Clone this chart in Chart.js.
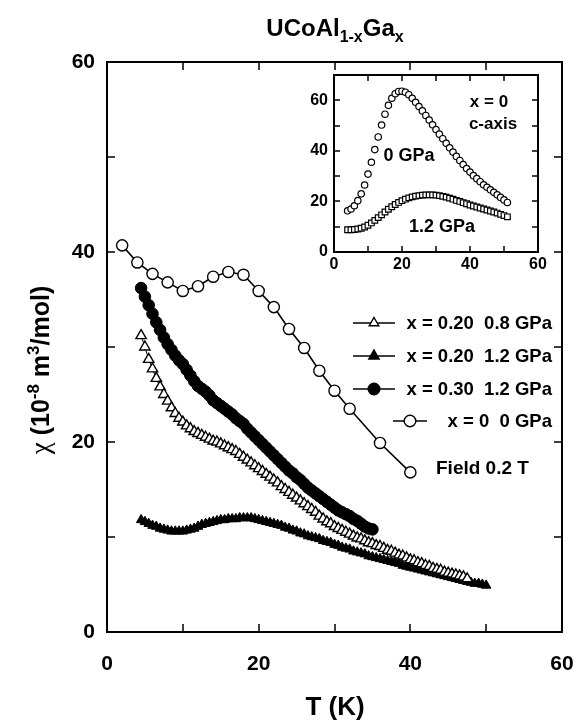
<!DOCTYPE html>
<html>
<head>
<meta charset="utf-8">
<script src="https://cdn.jsdelivr.net/npm/chart.js@4.4.1/dist/chart.umd.min.js"></script>
<style>
  html, body { margin: 0; padding: 0; background: #fff; }
  #wrap { position: relative; width: 576px; height: 725px; }
  #mainChart { position: absolute; left: 0; top: 0; width: 576px; height: 725px; }
  #insetChart { position: absolute; left: 290px; top: 66px; width: 262px; height: 222px; }
</style>
</head>
<body>
<div id="wrap">
  <canvas id="mainChart" width="576" height="725"></canvas>
  <canvas id="insetChart" width="262" height="222"></canvas>
</div>
<script>
// ---- main panel data (T in K, chi in 1e-8 m3/mol) ----
const x0T = [2, 4, 6, 8, 10, 12, 14, 16, 18, 20, 22, 24, 26, 28, 30, 32, 36, 40];
const x0Chi = [40.7, 38.9, 37.7, 36.8, 35.9, 36.4, 37.4, 37.9, 37.6, 35.9, 34.2, 31.9, 29.9, 27.5, 25.4, 23.5, 19.9, 16.8];

const x30T = [
  4.5, 5, 5.5, 6, 6.5, 7, 7.5, 8, 8.5, 9,
  9.5, 10, 10.5, 11, 11.5, 12, 12.5, 13, 13.5, 14,
  14.5, 15, 15.5, 16, 16.5, 17, 17.5, 18, 18.5, 19,
  19.5, 20, 20.5, 21, 21.5, 22, 22.5, 23, 23.5, 24,
  24.5, 25, 25.5, 26, 26.5, 27, 27.5, 28, 28.5, 29,
  29.5, 30, 30.5, 31, 31.5, 32, 32.5, 33, 33.5, 34,
  34.5, 35
];
const x30Chi = [
  36.2, 35.3, 34.4, 33.5, 32.6, 31.8, 31.0, 30.3, 29.7, 29.1,
  28.6, 28.2, 27.6, 27.0, 26.4, 25.9, 25.6, 25.3, 24.9, 24.4,
  24.1, 23.8, 23.5, 23.2, 22.9, 22.5, 22.2, 21.9, 21.4, 21.0,
  20.6, 20.2, 19.8, 19.4, 19.0, 18.6, 18.2, 17.8, 17.4, 17.0,
  16.7, 16.3, 16.0, 15.6, 15.2, 14.9, 14.6, 14.3, 14.0, 13.7,
  13.4, 13.1, 12.8, 12.6, 12.4, 12.2, 11.9, 11.7, 11.4, 11.1,
  10.9, 10.8
];

const x20lowT = [
  4.5, 5, 5.5, 6, 6.5, 7, 7.5, 8, 8.5, 9,
  9.5, 10, 10.5, 11, 11.5, 12, 12.5, 13, 13.5, 14,
  14.5, 15, 15.5, 16, 16.5, 17, 17.5, 18, 18.5, 19,
  19.5, 20, 20.5, 21, 21.5, 22, 22.5, 23, 23.5, 24,
  24.5, 25, 25.5, 26, 26.5, 27, 27.5, 28, 28.5, 29,
  29.5, 30, 30.5, 31, 31.5, 32, 32.5, 33, 33.5, 34,
  34.5, 35, 35.5, 36, 36.5, 37, 37.5, 38, 38.5, 39,
  39.5, 40, 40.5, 41, 41.5, 42, 42.5, 43, 43.5, 44,
  44.5, 45, 45.5, 46, 46.5, 47, 47.5
];
const x20lowChi = [
  31.2, 30.0, 28.7, 27.7, 26.7, 25.8, 25.0, 24.3, 23.6, 23.0,
  22.5, 22.1, 21.7, 21.4, 21.1, 20.9, 20.7, 20.5, 20.3, 20.1,
  20.0, 19.8, 19.6, 19.4, 19.2, 19.0, 18.7, 18.4, 18.1, 17.8,
  17.5, 17.2, 16.9, 16.6, 16.3, 16.0, 15.7, 15.3, 15.0, 14.7,
  14.4, 14.1, 13.8, 13.5, 13.2, 12.9, 12.6, 12.2, 11.9, 11.6,
  11.4, 11.1, 10.9, 10.7, 10.5, 10.3, 10.1, 9.9, 9.8, 9.6,
  9.4, 9.3, 9.1, 9.0, 8.8, 8.6, 8.5, 8.3, 8.1, 8.0,
  7.8, 7.6, 7.5, 7.3, 7.2, 7.0, 6.9, 6.7, 6.6, 6.5,
  6.3, 6.2, 6.1, 6.0, 5.9, 5.8, 5.6
];

const x20highT = [
  4.5, 5, 5.5, 6, 6.5, 7, 7.5, 8, 8.5, 9,
  9.5, 10, 10.5, 11, 11.5, 12, 12.5, 13, 13.5, 14,
  14.5, 15, 15.5, 16, 16.5, 17, 17.5, 18, 18.5, 19,
  19.5, 20, 20.5, 21, 21.5, 22, 22.5, 23, 23.5, 24,
  24.5, 25, 25.5, 26, 26.5, 27, 27.5, 28, 28.5, 29,
  29.5, 30, 30.5, 31, 31.5, 32, 32.5, 33, 33.5, 34,
  34.5, 35, 35.5, 36, 36.5, 37, 37.5, 38, 38.5, 39,
  39.5, 40, 40.5, 41, 41.5, 42, 42.5, 43, 43.5, 44,
  44.5, 45, 45.5, 46, 46.5, 47, 47.5, 48, 48.5, 49,
  49.5, 50
];
const x20highChi = [
  11.8, 11.6, 11.4, 11.2, 11.1, 10.9, 10.8, 10.7, 10.6, 10.6,
  10.6, 10.6, 10.7, 10.8, 10.9, 11.1, 11.3, 11.4, 11.5, 11.6,
  11.7, 11.8, 11.8, 11.9, 11.9, 11.9, 12.0, 12.0, 12.0, 12.0,
  11.9, 11.8, 11.7, 11.6, 11.5, 11.4, 11.3, 11.2, 11.0, 10.9,
  10.7, 10.6, 10.4, 10.3, 10.1, 10.0, 9.9, 9.8, 9.6, 9.5,
  9.4, 9.2, 9.1, 8.9, 8.8, 8.7, 8.5, 8.4, 8.3, 8.2,
  8.0, 7.9, 7.8, 7.7, 7.6, 7.5, 7.4, 7.3, 7.2, 7.0,
  6.9, 6.8, 6.7, 6.6, 6.5, 6.4, 6.3, 6.2, 6.1, 6.0,
  5.9, 5.8, 5.7, 5.6, 5.5, 5.4, 5.3, 5.2, 5.1, 5.1,
  5.0, 4.9
];

// ---- inset data: x = 0, c-axis ----
const insetT = [
  4, 5, 6, 7, 8, 9, 10, 11, 12, 13,
  14, 15, 16, 17, 18, 19, 20, 21, 22, 23,
  24, 25, 26, 27, 28, 29, 30, 31, 32, 33,
  34, 35, 36, 37, 38, 39, 40, 41, 42, 43,
  44, 45, 46, 47, 48, 49, 50, 51
];
const inset0GPa = [
  16.3, 17.0, 18.3, 20.3, 23.0, 26.5, 30.8, 35.5, 40.5, 45.5,
  50.2, 54.5, 58.0, 60.8, 62.6, 63.5, 63.6, 63.2, 62.2, 60.8,
  59.2, 57.5, 55.8, 54.0, 52.2, 50.3, 48.4, 46.6, 44.8, 43.0,
  41.2, 39.5, 37.8, 36.2, 34.6, 33.0, 31.6, 30.2, 29.0, 27.8,
  26.6, 25.6, 24.6, 23.6, 22.6, 21.6, 20.6, 19.6
];
const inset12GPa = [
  8.8, 8.8, 8.9, 9.1, 9.4, 9.9, 10.6, 11.5, 12.5, 13.6,
  14.7, 15.8, 16.9, 17.9, 18.8, 19.6, 20.3, 20.9, 21.4, 21.8,
  22.1, 22.3, 22.5, 22.6, 22.6, 22.6, 22.5, 22.3, 22.0, 21.7,
  21.3, 20.9, 20.4, 20.0, 19.5, 19.1, 18.6, 18.2, 17.8, 17.4,
  17.0, 16.6, 16.2, 15.8, 15.4, 14.9, 14.4, 13.9
];

const legendLabels = ['x = 0.20  0.8 GPa', 'x = 0.20  1.2 GPa', 'x = 0.30  1.2 GPa', 'x = 0  0 GPa'];

const SANS = '"Liberation Sans", Arial, Helvetica, sans-serif';
const pts = (xs, ys) => xs.map((v, i) => ({ x: v, y: ys[i] }));

// keep tick labels from shrinking the plot area
const noEdgePadding = s => {
  s.paddingLeft = 0; s.paddingRight = 0; s.paddingTop = 0; s.paddingBottom = 0;
};

// inward ticks on all four sides + closed frame
const frameTicks = {
  id: 'frameTicks',
  afterDatasetsDraw(chart, args, opts) {
    const { ctx, chartArea: a, scales } = chart;
    ctx.save();
    ctx.strokeStyle = '#000';
    ctx.lineWidth = opts.tickWidth;
    ctx.beginPath();
    scales.x.ticks.forEach(t => {
      const px = Math.round(scales.x.getPixelForValue(t.value));
      ctx.moveTo(px, a.bottom); ctx.lineTo(px, a.bottom - opts.tickLen);
      ctx.moveTo(px, a.top); ctx.lineTo(px, a.top + opts.tickLen);
    });
    scales.y.ticks.forEach(t => {
      const py = Math.round(scales.y.getPixelForValue(t.value));
      ctx.moveTo(a.left, py); ctx.lineTo(a.left + opts.tickLen, py);
      ctx.moveTo(a.right, py); ctx.lineTo(a.right - opts.tickLen, py);
    });
    ctx.stroke();
    ctx.lineWidth = opts.frameWidth;
    ctx.strokeRect(a.left, a.top, a.right - a.left, a.bottom - a.top);
    ctx.restore();
  }
};

// text runs with sub/superscripts
function drawRuns(ctx, runs, x, y, align) {
  let total = 0;
  runs.forEach(r => { ctx.font = r.font; r.w = ctx.measureText(r.text).width; total += r.w; });
  let cx = align === 'center' ? x - total / 2 : x;
  runs.forEach(r => {
    ctx.font = r.font;
    ctx.fillText(r.text, cx, y + (r.dy || 0));
    cx += r.w;
  });
}

function marker(ctx, style, x, y, r, filled) {
  ctx.beginPath();
  if (style === 'circle') {
    ctx.arc(x, y, r, 0, Math.PI * 2);
  } else {
    ctx.moveTo(x, y - r);
    ctx.lineTo(x + r * 0.866, y + r * 0.5);
    ctx.lineTo(x - r * 0.866, y + r * 0.5);
    ctx.closePath();
  }
  ctx.fillStyle = filled ? '#000' : '#fff';
  ctx.fill();
  ctx.stroke();
}

const mainTexts = {
  id: 'mainTexts',
  afterDraw(chart) {
    const ctx = chart.ctx;
    ctx.save();
    ctx.fillStyle = '#000';
    ctx.textBaseline = 'alphabetic';
    ctx.textAlign = 'left';
    // title
    drawRuns(ctx, [
      { text: 'UCoAl', font: 'bold 24px ' + SANS },
      { text: '1-x', font: 'bold 16px ' + SANS, dy: 6 },
      { text: 'Ga', font: 'bold 24px ' + SANS },
      { text: 'x', font: 'bold 16px ' + SANS, dy: 6 }
    ], 335, 36, 'center');
    // x axis title
    ctx.font = 'bold 26px ' + SANS;
    ctx.textAlign = 'center';
    ctx.fillText('T (K)', 335, 715);
    ctx.textAlign = 'left';
    // y axis title, rotated
    ctx.save();
    ctx.translate(49, 370);
    ctx.rotate(-Math.PI / 2);
    drawRuns(ctx, [
      { text: 'χ', font: '27px "Liberation Serif", serif' },
      { text: ' (10', font: 'bold 25px ' + SANS },
      { text: '-8', font: 'bold 17px ' + SANS, dy: -10 },
      { text: ' m', font: 'bold 25px ' + SANS },
      { text: '3', font: 'bold 17px ' + SANS, dy: -10 },
      { text: '/mol)', font: 'bold 25px ' + SANS }
    ], 0, 0, 'center');
    ctx.restore();
    // legend
    ctx.strokeStyle = '#000';
    const rows = [
      { y: 323, x1: 353, x2: 395, style: 'triangle', r: 5.5, filled: false },
      { y: 356, x1: 353, x2: 395, style: 'triangle', r: 6, filled: true },
      { y: 389, x1: 353, x2: 395, style: 'circle', r: 5.8, filled: true },
      { y: 421, x1: 393, x2: 427, style: 'circle', r: 5.8, filled: false }
    ];
    ctx.font = 'bold 18.5px ' + SANS;
    ctx.textBaseline = 'middle';
    rows.forEach((row, i) => {
      ctx.lineWidth = 1.6;
      ctx.beginPath();
      ctx.moveTo(row.x1, row.y); ctx.lineTo(row.x2, row.y);
      ctx.stroke();
      ctx.lineWidth = 1.4;
      marker(ctx, row.style, (row.x1 + row.x2) / 2, row.y, row.r, row.filled);
      ctx.fillStyle = '#000';
      ctx.textAlign = 'right';
      ctx.fillText(legendLabels[i], 552, row.y + 1);
    });
    ctx.textAlign = 'left';
    ctx.font = 'bold 19px ' + SANS;
    ctx.fillText('Field 0.2 T', 436, 469);
    ctx.restore();
  }
};

const tickFont = { family: SANS, size: 21, weight: 'bold' };

new Chart(document.getElementById('mainChart'), {
  type: 'scatter',
  data: {
    datasets: [
      {
        data: pts(x0T, x0Chi), showLine: true, borderColor: '#000', borderWidth: 1.6,
        pointStyle: 'circle', pointRadius: 5.6, pointBackgroundColor: '#fff',
        pointBorderColor: '#000', pointBorderWidth: 1.4
      },
      {
        data: pts(x30T, x30Chi), showLine: true, borderColor: '#000', borderWidth: 1.5,
        pointStyle: 'circle', pointRadius: 5.8, pointBackgroundColor: '#000',
        pointBorderColor: '#000', pointBorderWidth: 1
      },
      {
        data: pts(x20lowT, x20lowChi), showLine: true, borderColor: '#000', borderWidth: 1,
        pointStyle: 'triangle', pointRadius: 6, pointBackgroundColor: '#fff',
        pointBorderColor: '#000', pointBorderWidth: 1.4
      },
      {
        data: pts(x20highT, x20highChi), showLine: true, borderColor: '#000', borderWidth: 1.5,
        pointStyle: 'triangle', pointRadius: 5.5, pointBackgroundColor: '#000',
        pointBorderColor: '#000', pointBorderWidth: 1
      }
    ]
  },
  options: {
    responsive: false,
    animation: false,
    layout: { padding: { left: 0, top: 62, right: 14, bottom: 0 } },
    plugins: {
      legend: { display: false },
      tooltip: { enabled: false },
      frameTicks: { tickLen: 8, tickWidth: 1.5, frameWidth: 2 }
    },
    scales: {
      x: {
        type: 'linear', min: 0, max: 60,
        afterFit: s => { s.height = 93; noEdgePadding(s); },
        grid: { display: false, drawTicks: false },
        border: { display: false },
        ticks: {
          stepSize: 10, autoSkip: false, maxRotation: 0, padding: 20,
          color: '#000', font: tickFont,
          callback: v => (v % 20 === 0 ? v : '')
        }
      },
      y: {
        type: 'linear', min: 0, max: 60,
        afterFit: s => { s.width = 107; noEdgePadding(s); },
        grid: { display: false, drawTicks: false },
        border: { display: false },
        ticks: {
          stepSize: 10, autoSkip: false, padding: 12,
          color: '#000', font: tickFont,
          callback: v => (v % 20 === 0 ? v : '')
        }
      }
    }
  },
  plugins: [frameTicks, mainTexts]
});

// ---- inset ----
const insetTexts = {
  id: 'insetTexts',
  afterDraw(chart) {
    const ctx = chart.ctx;
    const ox = 290, oy = 66; // canvas offset on the page
    ctx.save();
    ctx.fillStyle = '#000';
    ctx.textAlign = 'center';
    ctx.textBaseline = 'middle';
    ctx.font = 'bold 17px ' + SANS;
    ctx.fillText('x = 0', 489 - ox, 102 - oy);
    ctx.fillText('c-axis', 493 - ox, 124 - oy);
    ctx.font = 'bold 18px ' + SANS;
    ctx.fillText('0 GPa', 409 - ox, 156 - oy);
    ctx.fillText('1.2 GPa', 442 - ox, 227 - oy);
    ctx.restore();
  }
};

const insetFont = { family: SANS, size: 16, weight: 'bold' };

new Chart(document.getElementById('insetChart'), {
  type: 'scatter',
  data: {
    datasets: [
      {
        data: pts(insetT, inset0GPa), showLine: false,
        pointStyle: 'circle', pointRadius: 3.2, pointBackgroundColor: '#fff',
        pointBorderColor: '#000', pointBorderWidth: 1.2
      },
      {
        data: pts(insetT, inset12GPa), showLine: false,
        pointStyle: 'rect', pointRadius: 4, pointBackgroundColor: '#fff',
        pointBorderColor: '#000', pointBorderWidth: 1.2
      }
    ]
  },
  options: {
    responsive: false,
    animation: false,
    layout: { padding: { left: 0, top: 9, right: 14, bottom: 0 } },
    plugins: {
      legend: { display: false },
      tooltip: { enabled: false },
      frameTicks: { tickLen: 6, tickWidth: 1.5, frameWidth: 2 }
    },
    scales: {
      x: {
        type: 'linear', min: 0, max: 60,
        afterFit: s => { s.height = 36; noEdgePadding(s); },
        grid: { display: false, drawTicks: false },
        border: { display: false },
        ticks: {
          stepSize: 10, autoSkip: false, maxRotation: 0, padding: 3,
          color: '#000', font: insetFont,
          callback: v => (v % 20 === 0 ? v : '')
        }
      },
      y: {
        type: 'linear', min: 0, max: 70,
        afterFit: s => { s.width = 44; noEdgePadding(s); },
        grid: { display: false, drawTicks: false },
        border: { display: false },
        ticks: {
          stepSize: 10, autoSkip: false, padding: 6,
          color: '#000', font: insetFont,
          callback: v => (v % 20 === 0 ? v : '')
        }
      }
    }
  },
  plugins: [frameTicks, insetTexts]
});
</script>
</body>
</html>
